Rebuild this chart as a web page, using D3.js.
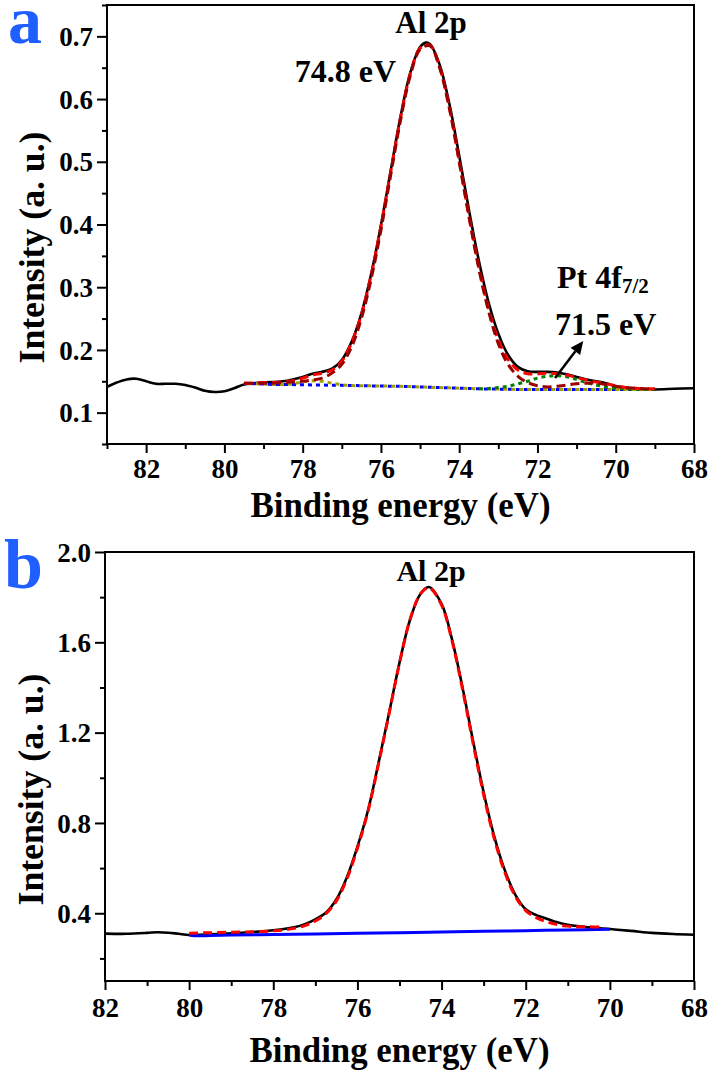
<!DOCTYPE html>
<html><head><meta charset="utf-8">
<script src="https://cdn.jsdelivr.net/npm/d3@7"></script>
<style>body{margin:0;background:#fff}svg{display:block}</style>
</head><body>
<svg id="c" width="712" height="1080"></svg>
<script>
// ---------------- Panel a data ----------------
const aMeasE = [83,82.75,82.5,82.25,82,81.75,81.5,81.25,81,80.75,80.5,80.25,80,79.75,79.5,79,78.5,78,77.75,77.5,77.25,77,76.75,76.5,76.25,76,75.75,75.5,75.25,75,74.85,74.75,74.5,74.25,74,73.75,73.5,73.25,73,72.75,72.5,72.25,72,71.75,71.5,71.25,71,70.75,70.5,70.25,70,69.75,69.5,69,68.5,68];
const aMeasI = [0.141,0.148,0.153,0.154,0.150,0.146,0.146,0.146,0.144,0.140,0.135,0.133,0.134,0.139,0.145,0.148,0.150,0.157,0.162,0.165,0.170,0.184,0.213,0.258,0.321,0.399,0.486,0.572,0.642,0.683,0.690,0.688,0.655,0.592,0.510,0.423,0.343,0.276,0.226,0.192,0.173,0.166,0.165,0.165,0.164,0.161,0.157,0.153,0.150,0.147,0.142,0.139,0.138,0.137,0.138,0.139];
const aFitE = [79.5,79.25,79,78.75,78.5,78.25,78,77.75,77.5,77.25,77,76.75,76.5,76.25,76,75.75,75.5,75.25,75,74.75,74.5,74.25,74,73.75,73.5,73.25,73,72.75,72.5,72.25,72,71.75,71.5,71.25,71,70.75,70.5,70.25,70,69.75,69.5,69.25,69];
const aEnvelope = [0.147,0.147,0.148,0.148,0.149,0.151,0.155,0.160,0.163,0.168,0.182,0.211,0.256,0.319,0.397,0.484,0.570,0.640,0.681,0.686,0.651,0.586,0.502,0.414,0.333,0.266,0.216,0.185,0.168,0.162,0.162,0.163,0.162,0.160,0.156,0.152,0.149,0.146,0.143,0.140,0.139,0.138,0.138];
const aAlComp = [0.147,0.147,0.147,0.147,0.148,0.149,0.150,0.152,0.155,0.163,0.177,0.205,0.250,0.313,0.391,0.479,0.566,0.637,0.679,0.685,0.650,0.585,0.500,0.412,0.330,0.262,0.210,0.177,0.158,0.148,0.143,0.141,0.142,0.144,0.146,0.147,0.147,0.145,0.142,0.140,0.139,0.138,0.138];
const aBackground = [0.146,0.146,0.1455,0.145,0.145,0.1447,0.1445,0.1442,0.144,0.1437,0.1435,0.1432,0.143,0.1427,0.1425,0.1422,0.142,0.1415,0.141,0.1405,0.140,0.1395,0.139,0.1385,0.138,0.1377,0.1375,0.1372,0.137,0.137,0.137,0.137,0.137,0.137,0.137,0.137,0.137,0.137,0.137,0.137,0.137,0.137,0.137];
const aSmallComp = [0.146,0.146,0.1455,0.145,0.145,0.146,0.149,0.151,0.150,0.147,0.1445,0.1432,0.143,0.1427,0.1425,0.1422,0.142,0.1415,0.141,0.1405,0.140,0.1395,0.139,0.1385,0.138,0.1377,0.1375,0.1372,0.137,0.137,0.137,0.137,0.137,0.137,0.137,0.137,0.137,0.137,0.137,0.137,0.137,0.137,0.137];
const aPtE = [73.5,73.25,73,72.75,72.5,72.25,72,71.75,71.5,71.25,71,70.75,70.5,70.25,70,69.75,69.5,69.25,69];
const aPtComp = [0.138,0.1385,0.140,0.142,0.146,0.150,0.155,0.158,0.159,0.157,0.153,0.148,0.144,0.141,0.139,0.138,0.137,0.137,0.137];
const aXMajor = [82,80,78,76,74,72,70,68];
const aXMinor = [83,81,79,77,75,73,71,69];
const aYMajor = [0.1,0.2,0.3,0.4,0.5,0.6,0.7];
const aYMinor = [0.05,0.15,0.25,0.35,0.45,0.55,0.65,0.75];

// ---------------- Panel b data ----------------
const bMeasE = [82,81.5,81,80.75,80.5,80.25,80,79.5,79,78.5,78,77.75,77.5,77.25,77,76.75,76.5,76.25,76,75.75,75.5,75.25,75,74.75,74.5,74.3,74,73.75,73.5,73.25,73,72.75,72.5,72.25,72,71.75,71.5,71.25,71,70.5,70,69.5,69,68.5,68];
const bMeasI = [0.310,0.309,0.313,0.316,0.314,0.309,0.304,0.307,0.311,0.317,0.325,0.330,0.338,0.352,0.373,0.402,0.462,0.560,0.695,0.855,1.065,1.285,1.510,1.700,1.815,1.845,1.770,1.612,1.398,1.162,0.936,0.742,0.592,0.483,0.418,0.392,0.376,0.360,0.349,0.338,0.330,0.322,0.313,0.308,0.305];
const bFitE = [80,79.5,79,78.5,78,77.75,77.5,77.25,77,76.75,76.5,76.25,76,75.75,75.5,75.25,75,74.75,74.5,74.3,74,73.75,73.5,73.25,73,72.75,72.5,72.25,72,71.75,71.5,71.25,71,70.75,70.5,70.2];
const bFitI = [0.312,0.314,0.316,0.318,0.322,0.326,0.333,0.345,0.366,0.398,0.455,0.552,0.688,0.850,1.060,1.282,1.508,1.700,1.815,1.842,1.765,1.605,1.390,1.152,0.925,0.732,0.583,0.476,0.412,0.381,0.362,0.350,0.343,0.340,0.340,0.339];
const bBgE = [80,79.8,79.5,79,78,77,76,75,74,73,72,71,70];
const bBgI = [0.304,0.300,0.302,0.304,0.306,0.308,0.311,0.314,0.317,0.320,0.323,0.326,0.329];
const bXMajor = [82,80,78,76,74,72,70,68];
const bXMinor = [81,79,77,75,73,71,69];
const bYMajor = [0.4,0.8,1.2,1.6,2.0];
const bYMinor = [0.2,0.6,1.0,1.4,1.8];

// ---------------- drawing ----------------
const FONT = "'Liberation Serif','Times New Roman',serif";
const svg = d3.select("#c");
const zip = (a,b) => a.map((v,i)=>[v,b[i]]);

function makePanel(o){
  const x = d3.scaleLinear().domain(o.xDomain).range([o.left,o.right]);
  const y = d3.scaleLinear().domain(o.yDomain).range([o.bottom,o.top]);
  const g = svg.append("g");
  const id = "clip"+o.name;
  svg.append("clipPath").attr("id",id).append("rect")
    .attr("x",o.left).attr("y",o.top).attr("width",o.right-o.left).attr("height",o.bottom-o.top);
  const plot = g.append("g").attr("clip-path",`url(#${id})`);
  const styleAxis = sel => {
    sel.select(".domain").remove();
    sel.selectAll(".tick line").attr("stroke","#000").attr("stroke-width",2);
    sel.selectAll("text").attr("font-family",FONT).attr("font-weight","bold")
      .attr("font-size",o.tickFont).attr("fill","#000");
  };
  g.append("g").attr("transform",`translate(0,${o.bottom})`)
    .call(d3.axisBottom(x).tickValues(o.xMinor).tickSize(5).tickFormat("")).call(styleAxis);
  const xa = g.append("g").attr("transform",`translate(0,${o.bottom})`)
    .call(d3.axisBottom(x).tickValues(o.xMajor).tickSize(9).tickFormat(d3.format("d"))).call(styleAxis);
  xa.selectAll("text").attr("dy",null).attr("y",o.xLabelBase);
  g.append("g").attr("transform",`translate(${o.left},0)`)
    .call(d3.axisLeft(y).tickValues(o.yMinor).tickSize(5).tickFormat("")).call(styleAxis);
  const ya = g.append("g").attr("transform",`translate(${o.left},0)`)
    .call(d3.axisLeft(y).tickValues(o.yMajor).tickSize(10).tickPadding(4).tickFormat(d3.format(".1f"))).call(styleAxis);
  ya.selectAll("text").attr("dy","0.34em");
  g.append("rect").attr("x",o.left).attr("y",o.top).attr("width",o.right-o.left).attr("height",o.bottom-o.top)
    .attr("fill","none").attr("stroke","#000").attr("stroke-width",2);
  g.append("text").attr("x",(o.left+o.right)/2).attr("y",o.xTitleY).attr("text-anchor","middle")
    .attr("font-family",FONT).attr("font-weight","bold").attr("font-size",35)
    .attr("textLength",300).attr("lengthAdjust","spacingAndGlyphs")
    .text("Binding energy (eV)");
  g.append("text").attr("transform",`translate(${o.yTitleX},${(o.top+o.bottom)/2+23}) rotate(-90)`)
    .attr("text-anchor","middle").attr("font-family",FONT).attr("font-weight","bold").attr("font-size",35)
    .attr("textLength",232).attr("lengthAdjust","spacingAndGlyphs")
    .text("Intensity (a. u.)");
  g.append("text").attr("x",o.labelX).attr("y",o.labelY).attr("font-family",FONT).attr("font-weight","bold")
    .attr("font-size",o.labelSize).attr("fill","#1f5eff").text(o.name);
  return {x,y,g,plot};
}

const lineGen = (x,y) => d3.line().x(d=>x(d[0])).y(d=>y(d[1])).curve(d3.curveCatmullRom.alpha(0.5));

// Panel a
const A = makePanel({name:"a",left:107,right:694,top:5,bottom:444,xDomain:[83,68],yDomain:[0.05,0.75],
  xMajor:aXMajor,xMinor:aXMinor,yMajor:aYMajor,yMinor:aYMinor,tickFont:27,xLabelBase:34,
  xTitleY:517,yTitleX:44,labelX:8,labelY:43,labelSize:68});
{
  const L = lineGen(A.x,A.y);
  A.plot.append("path").attr("d",L(zip(aMeasE,aMeasI))).attr("fill","none").attr("stroke","#000").attr("stroke-width",2.6);
  A.plot.append("path").attr("d",L(zip(aFitE,aBackground))).attr("fill","none").attr("stroke","#0000ff").attr("stroke-width",3).attr("stroke-dasharray","4,4");
  A.plot.append("path").attr("d",L(zip(aFitE,aSmallComp))).attr("fill","none").attr("stroke","#a0a000").attr("stroke-width",3).attr("stroke-dasharray","4,4").attr("stroke-dashoffset",4);
  A.plot.append("path").attr("d",L(zip(aPtE,aPtComp))).attr("fill","none").attr("stroke","#008000").attr("stroke-width",3).attr("stroke-dasharray","4,4");
  A.plot.append("path").attr("d",L(zip(aFitE,aEnvelope))).attr("fill","none").attr("stroke","#ff0000").attr("stroke-width",3).attr("stroke-dasharray","9,5");
  A.plot.append("path").attr("d",L(zip(aFitE,aAlComp))).attr("fill","none").attr("stroke","#9b0000").attr("stroke-width",3).attr("stroke-dasharray","9,5");
  const t = (txt,e,v,size,anchor) => A.g.append("text").attr("x",A.x(e)).attr("y",A.y(v)).attr("text-anchor",anchor||"start")
     .attr("font-family",FONT).attr("font-weight","bold").attr("font-size",size).text(txt);
  t("Al 2p",74.72,0.7055,31,"middle");
  t("74.8 eV",78.2,0.6273,32);
  const pt = t("Pt 4f",71.5,0.2988,32);
  pt.append("tspan").attr("font-size",21).attr("dy",5).text("7/2");
  t("71.5 eV",71.55,0.2238,32);
  // arrow
  const x0=A.x(71.55),y0=A.y(0.1553),x1=A.x(70.83),y1=A.y(0.2143);
  const ang=Math.atan2(y1-y0,x1-x0), hl=13, hw=6;
  const bx=x1-hl*Math.cos(ang), by=y1-hl*Math.sin(ang);
  A.g.append("line").attr("x1",x0).attr("y1",y0).attr("x2",bx).attr("y2",by).attr("stroke","#000").attr("stroke-width",2.5);
  A.g.append("path").attr("d",`M${x1},${y1}L${bx+hw*Math.sin(ang)},${by-hw*Math.cos(ang)}L${bx-hw*Math.sin(ang)},${by+hw*Math.cos(ang)}Z`).attr("fill","#000");
}

// Panel b
const B = makePanel({name:"b",left:105,right:694,top:552,bottom:981,xDomain:[82,68],yDomain:[0.1,2.0],
  xMajor:bXMajor,xMinor:bXMinor,yMajor:bYMajor,yMinor:bYMinor,tickFont:27,xLabelBase:36,
  xTitleY:1062,yTitleX:43,labelX:4,labelY:588,labelSize:70});
{
  const L = lineGen(B.x,B.y);
  B.plot.append("path").attr("d",L(zip(bMeasE,bMeasI))).attr("fill","none").attr("stroke","#000").attr("stroke-width",2.6);
  B.plot.append("path").attr("d",L(zip(bBgE,bBgI))).attr("fill","none").attr("stroke","#0000ff").attr("stroke-width",3);
  B.plot.append("path").attr("d",L(zip(bFitE,bFitI))).attr("fill","none").attr("stroke","#ff0000").attr("stroke-width",3).attr("stroke-dasharray","9,5");
  B.g.append("text").attr("x",B.x(74.25)).attr("y",B.y(1.87)).attr("text-anchor","middle")
    .attr("font-family",FONT).attr("font-weight","bold").attr("font-size",30).text("Al 2p");
}
</script>
</body></html>
